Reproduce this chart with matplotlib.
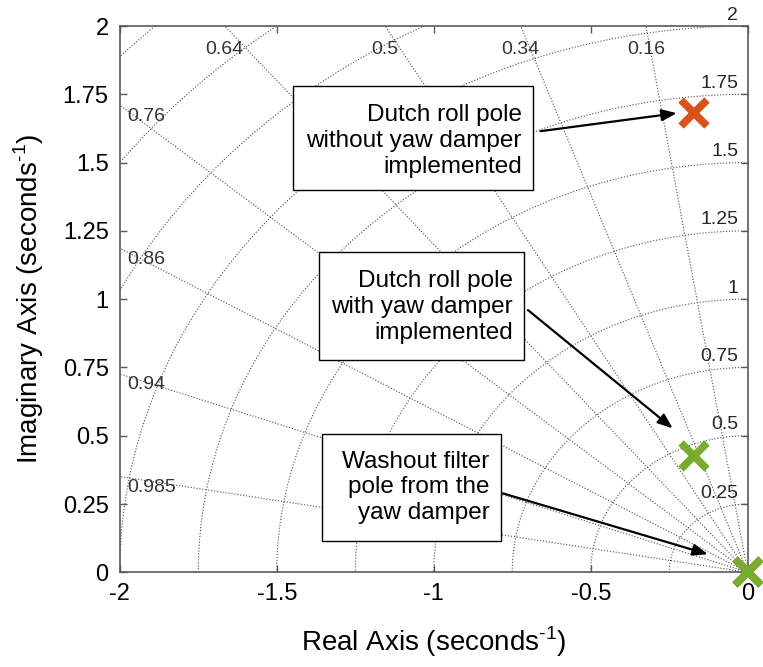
import numpy as np
import matplotlib
matplotlib.use("Agg")
import matplotlib.pyplot as plt
from matplotlib.patches import Rectangle

plt.rcParams['font.family'] = ['Liberation Sans', 'DejaVu Sans']
plt.rcParams['mathtext.fontset'] = 'custom'
plt.rcParams['mathtext.rm'] = 'Liberation Sans'
plt.rcParams['axes.unicode_minus'] = False

# sgrid values
zetas = [0.16, 0.34, 0.5, 0.64, 0.76, 0.86, 0.94, 0.985]
wns = [0.25, 0.5, 0.75, 1.0, 1.25, 1.5, 1.75, 2.0, 2.25, 2.5, 2.75]
wn_labels = ['0.25', '0.5', '0.75', '1', '1.25', '1.5', '1.75', '2']

# poles
without_re = [-0.17, 0.0]
without_im = [1.68, 0.0]
with_re = [-0.17, 0.0]
with_im = [0.425, 0.0]

xticks = [-2, -1.5, -1, -0.5, 0]
xticklabels = ['-2', '-1.5', '-1', '-0.5', '0']
yticks = [0, 0.25, 0.5, 0.75, 1, 1.25, 1.5, 1.75, 2]
yticklabels = ['0', '0.25', '0.5', '0.75', '1', '1.25', '1.5', '1.75', '2']

fig = plt.figure(figsize=(7.63, 6.67), dpi=100)
ax = fig.add_axes([0.157, 0.142, 0.823, 0.819])
ax.set_xlim(-2, 0)
ax.set_ylim(0, 2)

gc = '0.3'
# damping lines
for z in zetas:
    r = np.array([0, 4.0])
    ax.plot(-z * r, np.sqrt(1 - z**2) * r, ls=':', color=gc, lw=0.8, zorder=1)
    s = np.sqrt(1 - z**2) / z
    lab = '%g' % z
    yl = 2 * s
    if yl <= 2:
        ax.text(-1.975, yl - 0.04, lab, ha='left', va='center', fontsize=14, color='0.2')
    else:
        ax.text(-2 / s, 1.915, lab, ha='center', va='center', fontsize=14, color='0.2')

# frequency circles
th = np.linspace(np.pi / 2, np.pi, 300)
for w in wns:
    ax.plot(w * np.cos(th), w * np.sin(th), ls=':', color=gc, lw=0.8, zorder=1)
for w, lab in zip(wns, wn_labels):
    ax.text(-0.03, w + 0.04, lab, ha='right', va='center', fontsize=14,
            color='0.15', clip_on=False)

# poles
ax.plot(without_re, without_im, 'x', color='#D95319', ms=19, mew=5.5, clip_on=False, zorder=6)
ax.plot(with_re, with_im, 'x', color='#77AC30', ms=19, mew=5.5, clip_on=False, zorder=7)

# arrows
arr = dict(arrowstyle='-|>,head_length=0.9,head_width=0.35', color='black', lw=1.6,
           shrinkA=0, shrinkB=0)
ax.annotate('', xy=(-0.226, 1.681), xytext=(-0.66, 1.615), arrowprops=arr, zorder=4)
ax.annotate('', xy=(-0.239, 0.527), xytext=(-0.70, 0.96), arrowprops=arr, zorder=4)
ax.annotate('', xy=(-0.127, 0.066), xytext=(-0.78, 0.289), arrowprops=arr, zorder=4)

# text boxes: (x0, y0), width, height, text centre y, text
boxes = [
    ((-1.449, 1.399), 0.764, 0.381, 1.579, 'Dutch roll pole\nwithout yaw damper\nimplemented'),
    ((-1.366, 0.777), 0.653, 0.395, 0.971, 'Dutch roll pole\nwith yaw damper\nimplemented'),
    ((-1.357, 0.114), 0.570, 0.391, 0.311, 'Washout filter\npole from the\nyaw damper'),
]
for (x0, y0), w, h, yc, txt in boxes:
    ax.add_patch(Rectangle((x0, y0), w, h, fc='white', ec='black', lw=1.0, zorder=5))
    ax.text(x0 + w - 0.035, yc, txt, ha='right', va='center', multialignment='right',
            fontsize=17.5, linespacing=1.22, zorder=6)

ax.set_xticks(xticks)
ax.set_xticklabels(xticklabels)
ax.set_yticks(yticks)
ax.set_yticklabels(yticklabels)
ax.tick_params(direction='in', length=5, width=1, labelsize=17, top=True, right=True,
               color='0.35', pad=8)
for sp in ax.spines.values():
    sp.set_color('0.35')
    sp.set_linewidth(1.2)

ax.set_xlabel(r'Real Axis (seconds$^{\text{-1}}$)', fontsize=20, labelpad=14)
ax.set_ylabel(r'Imaginary Axis (seconds$^{\text{-1}}$)', fontsize=20, labelpad=12)

fig.savefig('out.png', dpi=100)
